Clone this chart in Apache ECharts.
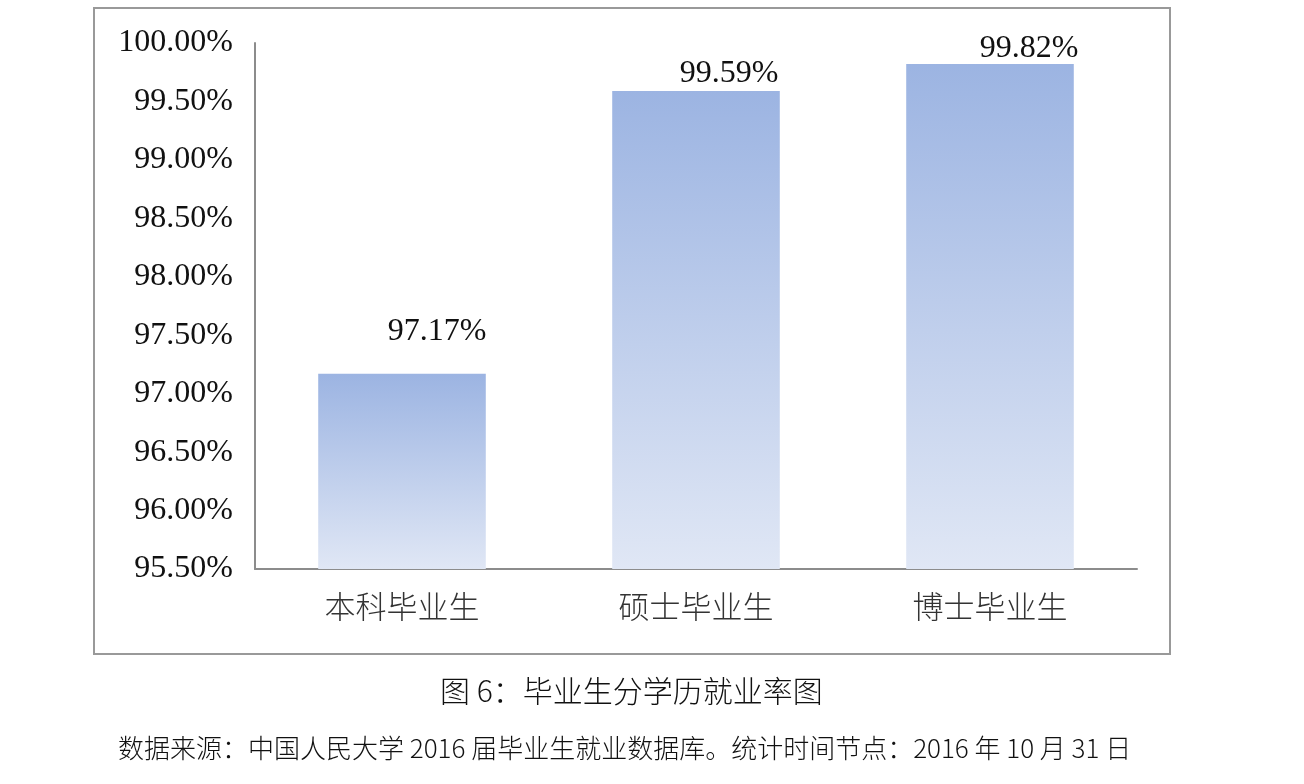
<!DOCTYPE html>
<html lang="zh">
<head>
    <meta charset="UTF-8">
    <script src="https://cdn.jsdelivr.net/npm/echarts@6.0.0/dist/echarts.min.js"></script>
    <style>
        html, body {margin: 0; padding: 0; background: #fff;}
        #chart {width: 1304px; height: 784px;}
    </style>
</head>
<body>
<div id="chart"></div>
<script>
    // 数据
    var categories = ['本科毕业生', '硕士毕业生', '博士毕业生'];
    var rates = [97.17, 99.59, 99.82];
    var yMin = 95.5;
    var yMax = 100;
    var yStep = 0.5;
    var captionText = '图 6：毕业生分学历就业率图';
    var sourceText = '数据来源：中国人民大学 2016 届毕业生就业数据库。统计时间节点：2016 年 10 月 31 日';

    var serif = '"Liberation Serif", "DejaVu Serif", "Noto Sans CJK SC", serif';
    var cjk = '"Noto Sans CJK SC", sans-serif';
    // 柱子标签偏移（原图第一根标签位置偏高）
    var labelOffsets = [[35, -21], [33, 4], [39, 6]];

    var barData = rates.map(function (v, i) {
        return {
            value: v,
            label: {offset: labelOffsets[i]}
        };
    });

    var myChart = echarts.init(document.getElementById('chart'));
    var option = {
        animation: false,
        grid: {left: 255, right: 167, top: 43, bottom: 215},
        xAxis: {
            type: 'category',
            data: categories,
            axisLine: {lineStyle: {color: '#8c8c8c', width: 2}},
            axisTick: {show: false},
            axisLabel: {
                margin: 22,
                fontSize: 31,
                fontFamily: cjk,
                fontWeight: 300,
                color: '#333'
            }
        },
        yAxis: {
            type: 'value',
            min: yMin,
            max: yMax,
            interval: yStep,
            axisLine: {show: true, lineStyle: {color: '#8c8c8c', width: 2}},
            axisTick: {show: false},
            splitLine: {show: false},
            axisLabel: {
                margin: 22,
                fontSize: 32,
                fontFamily: serif,
                color: '#111',
                padding: [7, 0, 0, 0],
                formatter: function (v) { return v.toFixed(2) + '%'; }
            }
        },
        series: [{
            type: 'bar',
            data: barData,
            barWidth: '57%',
            itemStyle: {
                color: new echarts.graphic.LinearGradient(0, 0, 0, 1, [
                    {offset: 0, color: '#9cb4e2'},
                    {offset: 1, color: '#e0e7f5'}
                ])
            },
            label: {
                show: true,
                position: 'top',
                fontSize: 32,
                fontFamily: serif,
                color: '#111',
                formatter: function (p) { return p.value.toFixed(2) + '%'; }
            }
        }],
        graphic: [
            {
                type: 'rect',
                shape: {x: 94, y: 8, width: 1076, height: 646},
                style: {fill: 'none', stroke: '#999', lineWidth: 2},
                silent: true
            },
            {
                type: 'text',
                left: 440,
                top: 676,
                style: {text: captionText, font: '300 30px ' + cjk, fill: '#111'}
            },
            {
                type: 'text',
                left: 118,
                top: 735,
                style: {text: sourceText, font: '300 26px ' + cjk, fill: '#111'}
            }
        ]
    };
    myChart.setOption(option);
</script>
</body>
</html>
